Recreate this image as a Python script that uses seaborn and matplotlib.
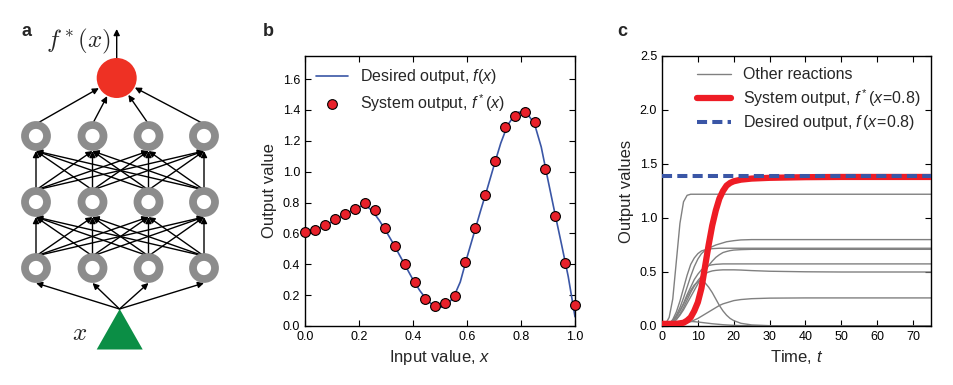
import numpy as np
import pandas as pd
import seaborn as sns
import matplotlib.pyplot as plt
from matplotlib.patches import Circle, Polygon
from matplotlib.lines import Line2D

# ---- panel b data ----
curve_x = [0.000, 0.025, 0.050, 0.075, 0.100, 0.125, 0.150, 0.175, 0.200, 0.215,
           0.230, 0.250, 0.275, 0.300, 0.325, 0.350, 0.375, 0.400, 0.425, 0.450,
           0.475, 0.490, 0.505, 0.525, 0.550, 0.575, 0.600, 0.625, 0.650, 0.675,
           0.700, 0.725, 0.750, 0.775, 0.790, 0.805, 0.825, 0.850, 0.875, 0.900,
           0.925, 0.950, 0.975, 1.000]
curve_y = [0.600, 0.615, 0.632, 0.652, 0.675, 0.700, 0.725, 0.750, 0.772, 0.780,
           0.775, 0.745, 0.685, 0.615, 0.540, 0.460, 0.380, 0.300, 0.230, 0.172,
           0.132, 0.120, 0.122, 0.137, 0.185, 0.285, 0.445, 0.595, 0.745, 0.890,
           1.040, 1.185, 1.300, 1.365, 1.385, 1.388, 1.372, 1.310, 1.160, 0.945,
           0.735, 0.530, 0.320, 0.060]

sample_x = [0.000, 0.037, 0.074, 0.111, 0.148, 0.185, 0.222, 0.259, 0.296, 0.333,
            0.370, 0.407, 0.444, 0.481, 0.519, 0.556, 0.593, 0.630, 0.667, 0.704,
            0.741, 0.778, 0.815, 0.852, 0.889, 0.926, 0.963, 1.000]
sample_y = [0.608, 0.623, 0.657, 0.692, 0.726, 0.759, 0.794, 0.750, 0.634, 0.519,
            0.400, 0.285, 0.173, 0.132, 0.147, 0.195, 0.415, 0.634, 0.852, 1.072,
            1.291, 1.360, 1.384, 1.319, 1.016, 0.713, 0.411, 0.134]

# ---- panel c data ----
time = [0, 1, 2, 3, 4, 5, 6, 7, 8, 9, 10, 11, 12, 13, 14, 15, 16, 17, 18, 19, 20,
        22, 25, 30, 40, 50, 75]
system_out = [0.02, 0.02, 0.02, 0.02, 0.02, 0.025, 0.03, 0.05, 0.08, 0.14, 0.22,
              0.35, 0.55, 0.75, 0.93, 1.07, 1.18, 1.25, 1.30, 1.325, 1.34,
              1.355, 1.365, 1.372, 1.378, 1.38, 1.38]
desired_out = 1.39
other_reactions = {
    'A': [0, 0.02, 0.08, 0.25, 0.60, 0.95, 1.15, 1.21, 1.22, 1.22, 1.22, 1.22, 1.22,
          1.22, 1.22, 1.22, 1.22, 1.22, 1.22, 1.22, 1.22, 1.22, 1.22, 1.22, 1.22, 1.22, 1.22],
    'B': [0, 0.005, 0.02, 0.05, 0.10, 0.17, 0.26, 0.36, 0.46, 0.55, 0.62, 0.67, 0.70,
          0.72, 0.735, 0.75, 0.76, 0.77, 0.78, 0.785, 0.79, 0.797, 0.80, 0.80, 0.80, 0.80, 0.80],
    'C': [0, 0.005, 0.02, 0.06, 0.13, 0.23, 0.35, 0.47, 0.57, 0.63, 0.67, 0.695, 0.705,
          0.712, 0.716, 0.718, 0.72, 0.72, 0.72, 0.72, 0.72, 0.72, 0.72, 0.72, 0.72, 0.72, 0.72],
    'D': [0, 0.003, 0.01, 0.03, 0.06, 0.10, 0.15, 0.21, 0.27, 0.33, 0.39, 0.45, 0.51,
          0.56, 0.60, 0.635, 0.66, 0.68, 0.69, 0.698, 0.703, 0.707, 0.71, 0.71, 0.71, 0.71, 0.71],
    'E': [0, 0.004, 0.015, 0.04, 0.08, 0.14, 0.21, 0.29, 0.36, 0.43, 0.48, 0.52, 0.545,
          0.56, 0.567, 0.571, 0.573, 0.575, 0.575, 0.575, 0.575, 0.575, 0.575, 0.575, 0.575, 0.575, 0.575],
    'F': [0, 0.003, 0.012, 0.03, 0.06, 0.11, 0.17, 0.24, 0.31, 0.37, 0.42, 0.46, 0.485,
          0.50, 0.51, 0.515, 0.518, 0.52, 0.52, 0.52, 0.52, 0.518, 0.513, 0.507, 0.502, 0.50, 0.50],
    'G': [0, 0, 0.002, 0.005, 0.01, 0.015, 0.022, 0.03, 0.04, 0.055, 0.07, 0.09, 0.11,
          0.13, 0.15, 0.17, 0.19, 0.205, 0.215, 0.225, 0.235, 0.245, 0.253, 0.258, 0.26, 0.26, 0.26],
    'H': [0, 0.005, 0.02, 0.05, 0.09, 0.14, 0.20, 0.27, 0.33, 0.38, 0.41, 0.42, 0.40,
          0.36, 0.31, 0.25, 0.19, 0.14, 0.10, 0.07, 0.05, 0.025, 0.01, 0.003, 0, 0, 0],
    'I': [0, 0.005, 0.015, 0.025, 0.033, 0.038, 0.041, 0.042, 0.042, 0.04, 0.037, 0.033,
          0.029, 0.025, 0.021, 0.018, 0.015, 0.012, 0.01, 0.008, 0.006, 0.004, 0.002, 0, 0, 0, 0],
}

# ---- panel a network ----
layer_cols = [36, 92.5, 148.5, 204]
layer_rows = [136, 202, 268]

RED = '#ee3124'
BLUE = '#3a56a6'
GRAY = '#808080'

sns.set_style('ticks')
plt.rcParams.update({
    'font.family': ['Liberation Sans', 'DejaVu Sans'],
    'mathtext.fontset': 'custom',
    'mathtext.rm': 'Liberation Sans',
    'mathtext.it': 'Liberation Sans:italic',
    'xtick.direction': 'in', 'ytick.direction': 'in',
    'xtick.top': True, 'ytick.right': True,
    'xtick.major.size': 4, 'ytick.major.size': 4,
    'xtick.labelsize': 9, 'ytick.labelsize': 9,
    'axes.linewidth': 1.0, 'axes.edgecolor': 'black',
    'xtick.color': 'black', 'ytick.color': 'black',
})

fig = plt.figure(figsize=(9.54, 3.85), dpi=100)

# ---------------- a ----------------
ax_a = fig.add_axes([0, 0, 250 / 954, 1])
ax_a.set_xlim(0, 250)
ax_a.set_ylim(385, 0)
ax_a.axis('off')

arrow = dict(arrowstyle='-|>', color='black', lw=1.0, mutation_scale=9,
             shrinkA=0, shrinkB=0)


def draw_arrow(start, end):
    ax_a.annotate('', xy=end, xytext=start, arrowprops=arrow, zorder=1)


# input -> first row
for cx in layer_cols:
    draw_arrow((119.5, 309), (cx, layer_rows[2] + 15))
# hidden -> hidden
for lo, hi in [(layer_rows[2], layer_rows[1]), (layer_rows[1], layer_rows[0])]:
    for xa in layer_cols:
        for xb in layer_cols:
            draw_arrow((xa, lo - 12), (xb, hi + 15))
# top row -> output
out_c = np.array([116.7, 78.0])
out_r = 20
for cx in layer_cols:
    start = np.array([cx, layer_rows[0] - 12])
    d = start - out_c
    d = d / np.hypot(*d)
    draw_arrow(tuple(start), tuple(out_c + d * (out_r + 0.5)))
draw_arrow((116.7, 58), (116.7, 29))

for ry in layer_rows:
    for cx in layer_cols:
        ax_a.add_patch(Circle((cx, ry), 11, facecolor='white', edgecolor='#8c8c8c',
                              lw=5.6, zorder=3))
ax_a.add_patch(Circle(tuple(out_c), out_r, facecolor=RED, edgecolor='none', zorder=3))
ax_a.add_patch(Polygon([(96.7, 349.5), (142.7, 349.5), (119.7, 309)], closed=True,
                       facecolor='#0b8e45', edgecolor='none', zorder=3))
ax_a.text(78, 41, r'$f^*(x)$', fontsize=18, math_fontfamily='cm',
          ha='center', va='center')
ax_a.text(80, 333, r'$x$', fontsize=18, math_fontfamily='cm',
          ha='center', va='center')

# ---------------- b ----------------
ax_b = fig.add_axes([305 / 954, 59 / 385, 270 / 954, 270 / 385])
sns.lineplot(x=curve_x, y=curve_y, color=BLUE, lw=1.2, ax=ax_b, sort=False)
sns.scatterplot(x=sample_x, y=sample_y, color='#e8202a', edgecolor='black',
                linewidth=0.8, s=50, zorder=3, clip_on=False, ax=ax_b)
ax_b.set_xlim(0, 1)
ax_b.set_ylim(0, 1.75)
ax_b.set_xticks(np.arange(0, 1.01, 0.2))
ax_b.set_yticks(np.arange(0, 1.61, 0.2))
ax_b.set_xlabel('Input value, $x$', fontsize=12)
ax_b.set_ylabel('Output value', fontsize=12)
hb = [Line2D([], [], color=BLUE, lw=1.2),
      Line2D([], [], ls='none', marker='o', markersize=7, markerfacecolor='#e8202a',
             markeredgecolor='black', markeredgewidth=0.8)]
ax_b.legend(hb, ['Desired output, $f(x)$', r'System output, $f^*(x)$'],
            loc='upper left', frameon=False, fontsize=11.5, handlelength=2.0,
            handletextpad=0.75, labelspacing=0.4, numpoints=1,
            borderaxespad=0.3)

# ---------------- c ----------------
ax_c = fig.add_axes([662 / 954, 59 / 385, 269 / 954, 270 / 385])
df = pd.DataFrame([(t, v, k) for k, vals in other_reactions.items()
                   for t, v in zip(time, vals)],
                  columns=['time', 'value', 'reaction'])
sns.lineplot(data=df, x='time', y='value', units='reaction', estimator=None,
             color=GRAY, lw=1.0, ax=ax_c, legend=False)
sns.lineplot(x=time, y=system_out, color='#ee1c25', lw=4.5, ax=ax_c, zorder=4)
ax_c.axhline(desired_out, color=BLUE, lw=2.9, dashes=(2.5, 1.3), zorder=5)
ax_c.set_xlim(0, 75)
ax_c.set_ylim(0, 2.5)
ax_c.set_xticks(np.arange(0, 71, 10))
ax_c.set_yticks(np.arange(0, 2.51, 0.5))
ax_c.set_xlabel('Time, $t$', fontsize=12)
ax_c.set_ylabel('Output values', fontsize=12)
hc = [Line2D([], [], color=GRAY, lw=1.0),
      Line2D([], [], color='#ee1c25', lw=4.5),
      Line2D([], [], color=BLUE, lw=2.9, dashes=(2.5, 1.3))]
ax_c.legend(hc, ['Other reactions', r'System output, $f^*(x\!=\!0.8)$',
                 r'Desired output, $f\,(x\!=\!0.8)$'],
            loc='upper left', bbox_to_anchor=(0.09, 1.0), frameon=False,
            fontsize=11.5, handlelength=2.1, handletextpad=0.75, labelspacing=0.3,
            borderaxespad=0.3)

for lbl, x in [('a', 26.5), ('b', 268), ('c', 622)]:
    fig.text(x / 954, 1 - 31 / 385, lbl, fontsize=13, fontweight='bold',
             ha='center', va='center')

fig.savefig('out.png', dpi=100)
